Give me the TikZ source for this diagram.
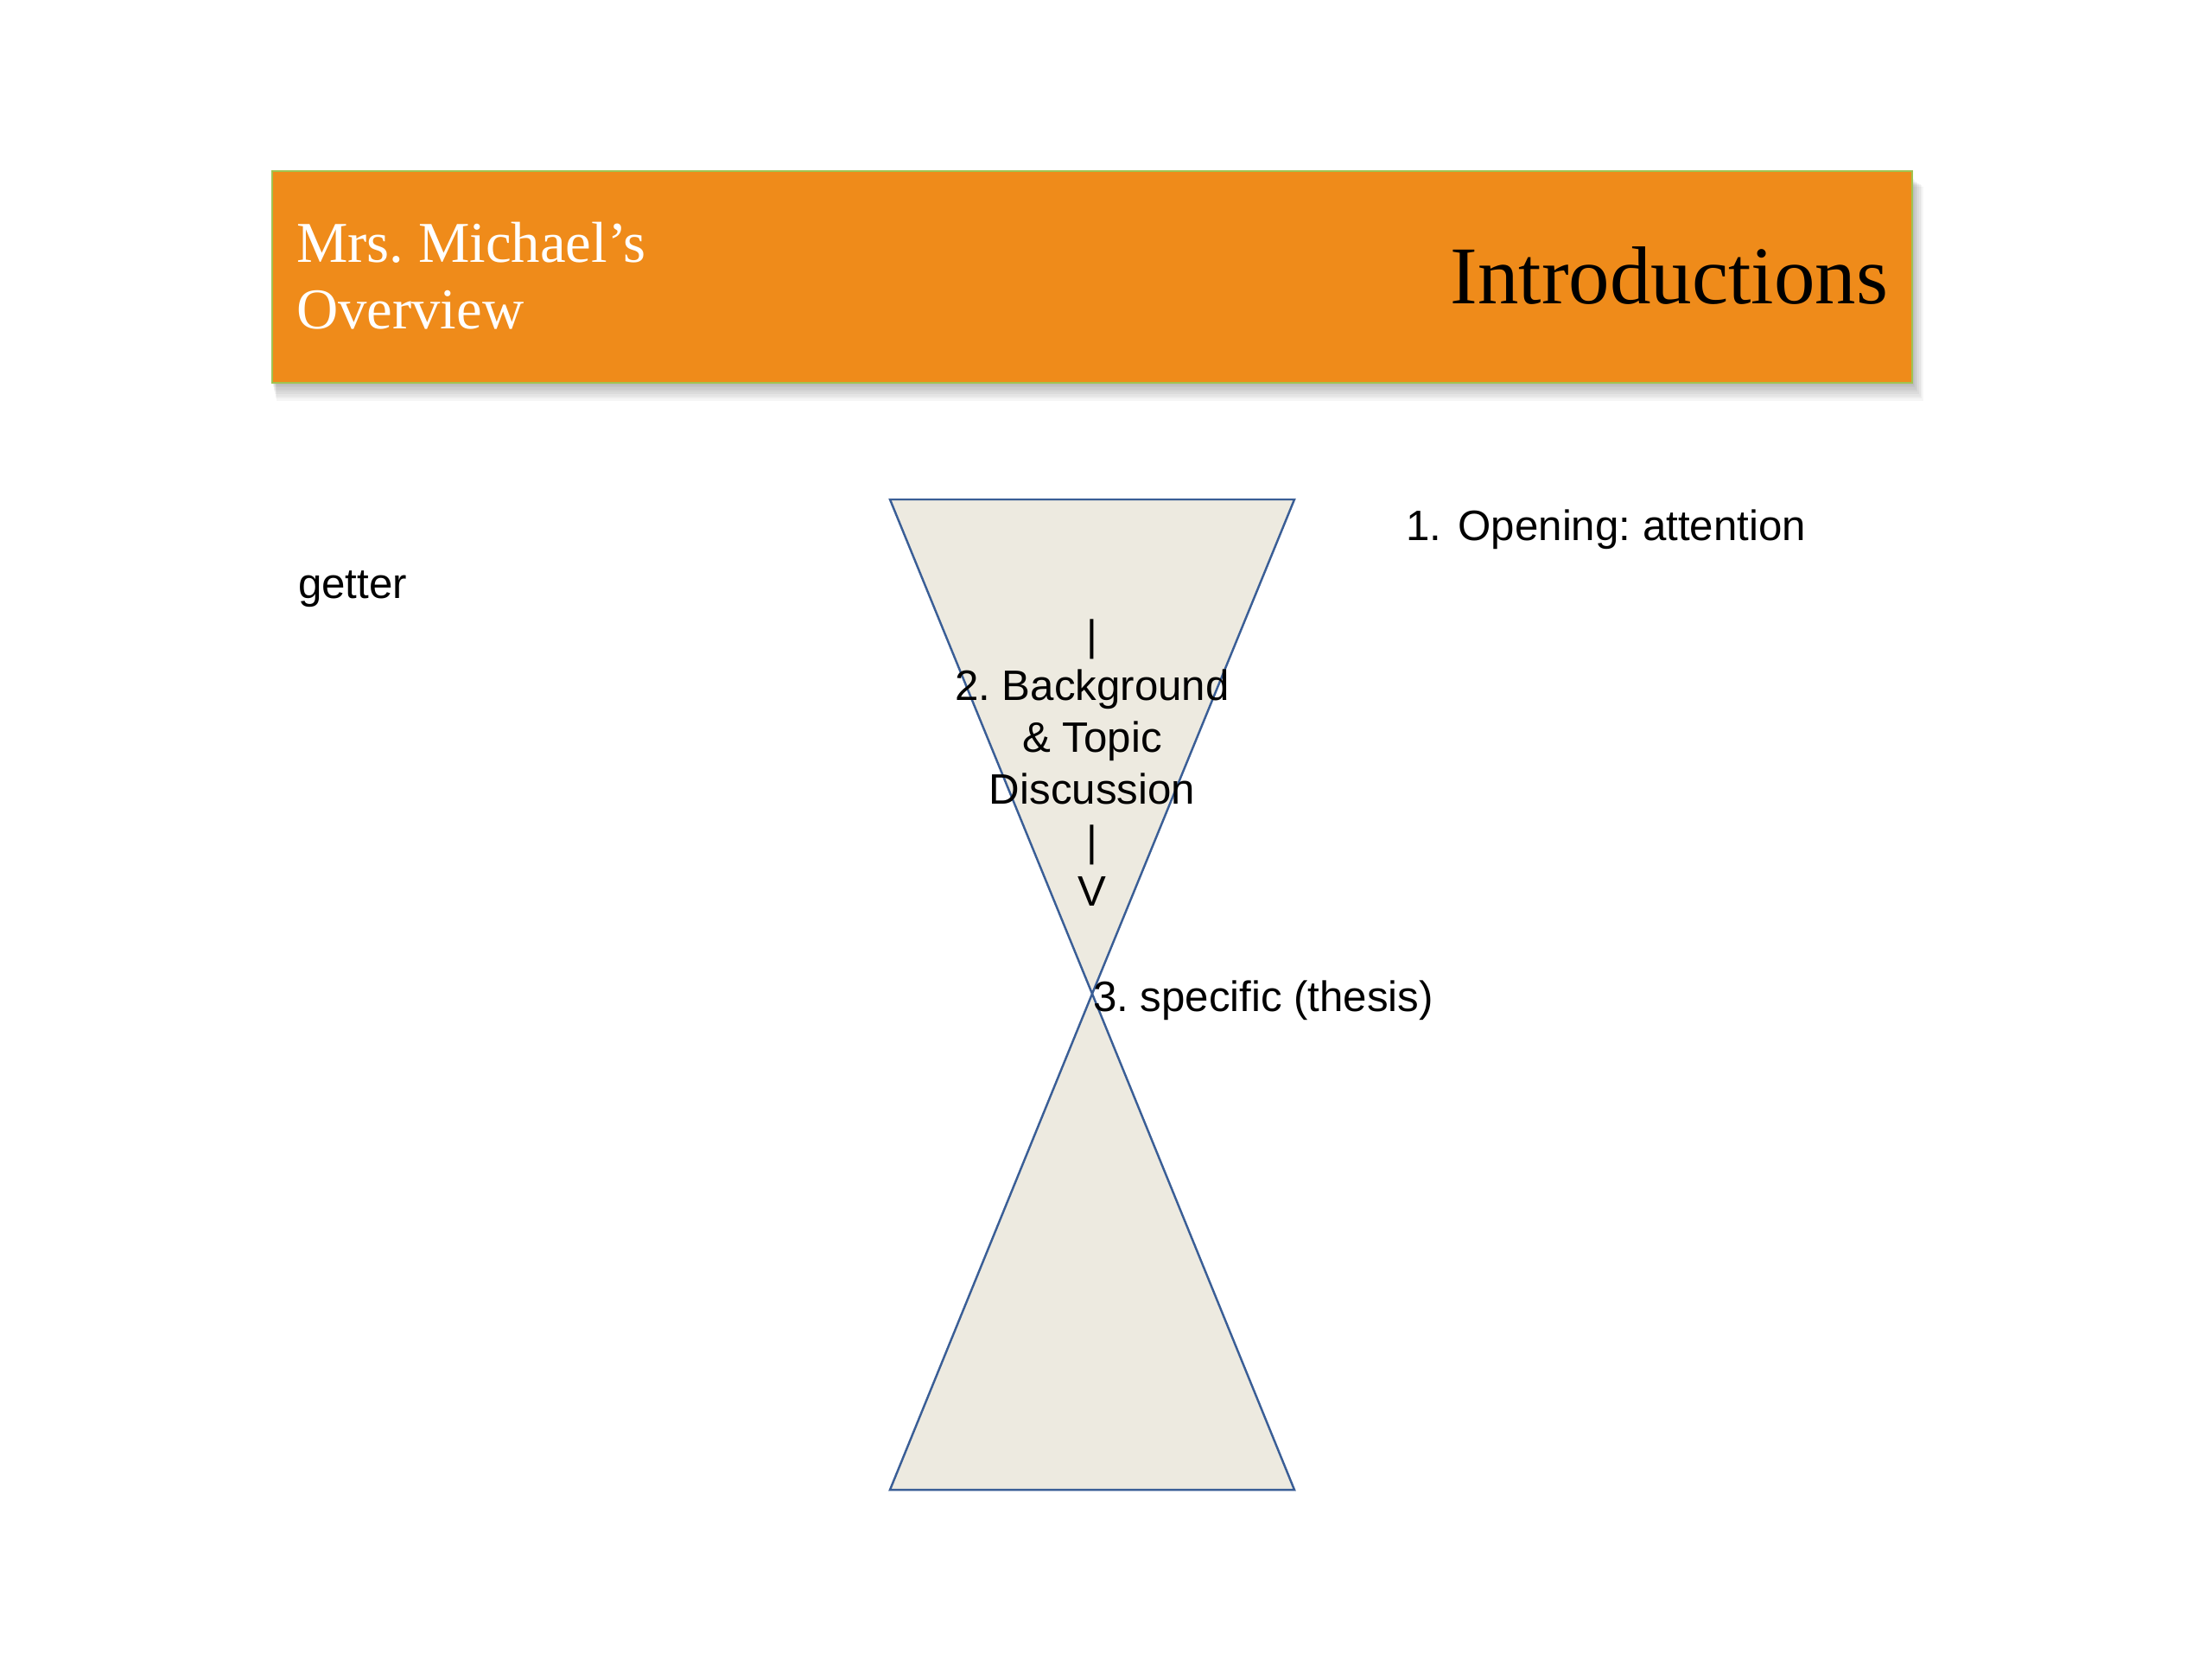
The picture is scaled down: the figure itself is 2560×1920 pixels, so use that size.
\documentclass[tikz,border=0pt]{standalone}
\usepackage{fontspec}
\setmainfont{Liberation Serif}
\newfontfamily\sansf{Liberation Sans}
\frenchspacing
\definecolor{hdrorange}{RGB}{239,139,26}
\definecolor{hdrgreen}{RGB}{160,195,80}
\definecolor{triline}{RGB}{58,94,150}
\definecolor{trifill}{RGB}{237,234,224}
\tikzset{
  txt/.style={inner sep=0pt, outer sep=0pt, font=\sansf\fontsize{14}{17}\selectfont, text=black},
  hdrw/.style={inner sep=0pt, outer sep=0pt, font=\fontsize{19}{23}\selectfont, text=white},
  hdrb/.style={inner sep=0pt, outer sep=0pt, font=\fontsize{27}{32}\selectfont, text=black},
  tri/.style={draw=triline, fill=trifill, line width=0.7pt, line join=miter}
}
\begin{document}
\begin{tikzpicture}[x=0.01cm,y=-0.01cm]
\useasboundingbox (0,0) rectangle (2560,1920);
\fill[white] (0,0) rectangle (2560,1920);
% header shadow
\foreach \i in {1,...,8}{
  \fill[black,opacity=0.035] (315+\i*0.6,206+\i*1.2) rectangle (2213+\i*1.6,443+\i*2.6);
}
% header bar
\path[fill=hdrorange, draw=hdrgreen, line width=0.6pt] (315,198) rectangle (2213,443);
\node[hdrw, anchor=base west] (mrs) at (343,303) {Mrs. Michael’s};
\node[hdrw, anchor=base west] (ovw) at (343,380) {Overview};
\node[hdrb, anchor=base east] (intro) at (2185,351) {Introductions};
% hourglass
\coordinate (tl) at (1030,578);
\coordinate (tr) at (1498,578);
\coordinate (ap) at (1264,1150);
\coordinate (bl) at (1030,1724);
\coordinate (br) at (1498,1724);
\path[tri] (tl) -- (tr) -- (ap) -- cycle;
\path[tri] (bl) -- (br) -- (ap) -- cycle;
% texts
\node[txt, anchor=base west] (open) at (1627,625) {1.\hspace{0.12em} Opening: attention};
\node[txt, anchor=base west] (getter) at (345,692) {getter};
\node[txt, anchor=base] (bar1) at (1264,752) {|};
\node[txt, anchor=base] (bg) at (1264,810) {2. Background};
\node[txt, anchor=base] (tp) at (1264,870) {\& Topic};
\node[txt, anchor=base] (disc) at (1264,930) {Discussion};
\node[txt, anchor=base] (bar2) at (1264,990) {|};
\node[txt, anchor=base] (vv) at (1264,1048) {V};
\node[txt, anchor=base west] (spec) at (1265,1170) {3. specific (thesis)};
\end{tikzpicture}
\end{document}
